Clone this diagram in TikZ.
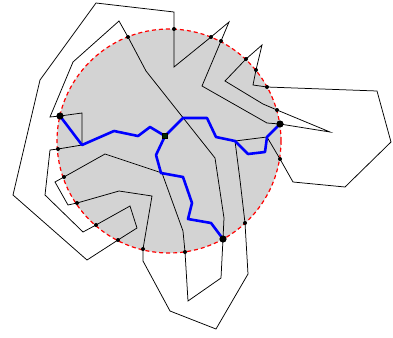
\documentclass[tikz,border=0pt]{standalone}
\usepackage{xcolor}
\usepackage{tikz}
\usetikzlibrary{calc}
\definecolor{diskgray}{RGB}{211,211,211}
\tikzset{
  curve/.style={black, line width=0.75pt, line join=miter},
  tree/.style={blue, line width=2.6pt, line join=round},
  boundary/.style={red, line width=1.2pt, dash pattern=on 4pt off 3pt},
  crossdot/.style={fill=black},
}

\begin{document}
\begin{tikzpicture}[x=1pt,y=-1pt]
\useasboundingbox (0,0) rectangle (393,337);
% disk
\coordinate (O) at (169,141);
\fill[diskgray] (O) circle (112pt);
% crossing points on the boundary
\coordinate (d1) at (174,29);
\coordinate (d2) at (211,37);
\coordinate (d3) at (221,41);
\coordinate (d4) at (277,110);
\coordinate (d5) at (246,59);
\coordinate (d6) at (256,70);
\coordinate (d7) at (267,87);
\coordinate (d8) at (280,159);
\coordinate (d9) at (245,223);
\coordinate (d10) at (143,249);
\coordinate (d11) at (77,203);
\coordinate (d12) at (64,177);
\coordinate (d13) at (185,252);
\coordinate (d14) at (128,37);
\coordinate (d15) at (58,149);
\coordinate (d16) at (96,225);
\coordinate (d17) at (118,240);
% terminals
\coordinate (tA) at (60,116);
\coordinate (tB) at (280,124);
\coordinate (tC) at (223,239);
% closed curve
\draw[curve] (96,3) -- (174,12) -- (d1) -- (174,67) -- (d2) -- (229,22) -- (d3)
  -- (202,86) -- (267,123) -- (tB) -- (330,132) -- (d4) -- (263,104) -- (225,81)
  -- (d5) -- (262,45) -- (d6) -- (253,85) -- (d7) -- (377,91) -- (391,142)
  -- (345,187) -- (293,182) -- (d8) -- (267,137) -- (235,141) -- (240,180)
  -- (d9) -- (248,274) -- (216,329) -- (170,311) -- (143,261) -- (d10)
  -- (152,196) -- (119,191) -- (d11) -- (68,205) -- (55,182) -- (d12)
  -- (105,154) -- (162,173) -- (183,231) -- (d13) -- (188,301) -- (221,278)
  -- (tC) -- (224,218) -- (215,158) -- (146,71) -- (d14) -- (119,21) -- (73,62)
  -- (50,117) -- (tA) -- (82,113) -- (82,145) -- (d15) -- (50,150) -- (45,195)
  -- (83,232) -- (d16) -- (130,206) -- (137,228) -- (d17) -- (87,260)
  -- (13,195) -- (40,80) -- cycle;
% boundary
\draw[boundary] (O) circle (112pt);
% small dots
\foreach \d in {d1,d2,d3,d4,d5,d6,d7,d8,d9,d10,d11,d12,d13,d14,d15,d16,d17}
  \fill[crossdot] (\d) circle (2pt);
% hub and tree
\node[draw=black, fill=black!85!green, minimum size=5pt, inner sep=0pt] (hub) at (165,136) {};
\draw[tree] (hub.center) -- (150,127) -- (138,136) -- (114,131) -- (82,145) -- (tA);
\draw[tree] (hub.center) -- (183,118) -- (207,118) -- (216,137) -- (235,141)
  -- (248,154) -- (265,152) -- (267,137) -- (tB);
\draw[tree] (hub.center) -- (156,155) -- (161,173) -- (183,177) -- (192,203)
  -- (188,219) -- (211,223) -- (tC);
\node[draw=black, fill=black!85!green, minimum size=5pt, inner sep=0pt] at (hub) {};
% terminal dots
\foreach \t in {tA,tB,tC}
  \fill[crossdot] (\t) circle (3.6pt);
\end{tikzpicture}
\end{document}
